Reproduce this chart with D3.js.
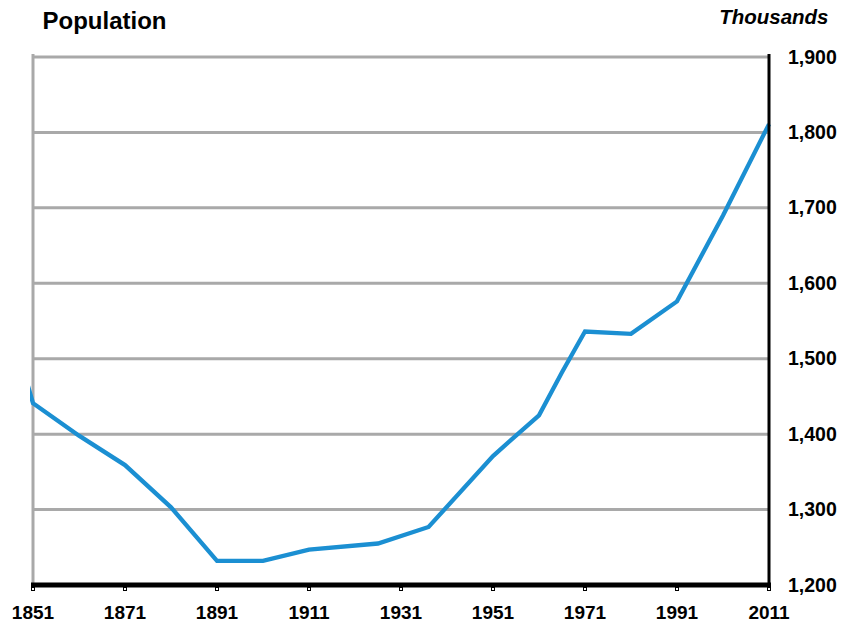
<!DOCTYPE html>
<html>
<head>
<meta charset="utf-8">
<script src="https://cdn.jsdelivr.net/npm/d3@7"></script>
<style>
  html, body { margin: 0; padding: 0; background: #fff; }
  svg { display: block; font-family: "Liberation Sans", Arial, Helvetica, sans-serif; }
</style>
</head>
<body>
<svg id="chart" width="842" height="624"></svg>
<script>
// Census years and population (thousands)
const years = [1841, 1851, 1861, 1871, 1881, 1891, 1901, 1911, 1926, 1937, 1951, 1961, 1966, 1971, 1981, 1991, 2001, 2011];
const population = [1649, 1441, 1398, 1359, 1303, 1232, 1232, 1247, 1255, 1277, 1371, 1425, 1482, 1536, 1533, 1576, 1690, 1811];
const xTicks = [1851, 1871, 1891, 1911, 1931, 1951, 1971, 1991, 2011];
const yTicks = [1200, 1300, 1400, 1500, 1600, 1700, 1800, 1900];

const svg = d3.select("#chart");
const plotLeft = 33, plotRight = 769, plotTop = 57, plotBottom = 585;

const x = d3.scaleLinear().domain([1851, 2011]).range([plotLeft, plotRight]);
const y = d3.scaleLinear().domain([1200, 1900]).range([plotBottom, plotTop]);
const fmt = d3.format(",");

// horizontal gridlines
svg.append("g").selectAll("line")
  .data(yTicks.filter(d => d > 1200))
  .join("line")
  .attr("x1", plotLeft).attr("x2", plotRight)
  .attr("y1", d => y(d)).attr("y2", d => y(d))
  .attr("stroke", "#a9a9a9").attr("stroke-width", 3);

// left frame
svg.append("line")
  .attr("x1", plotLeft).attr("x2", plotLeft)
  .attr("y1", plotTop - 3).attr("y2", plotBottom)
  .attr("stroke", "#a9a9a9").attr("stroke-width", 3);

// population line, clipped just outside the left frame
svg.append("clipPath").attr("id", "plot-clip")
  .append("rect").attr("x", plotLeft - 3).attr("y", 0).attr("width", plotRight - plotLeft + 10).attr("height", 624);

const line = d3.line().x((d, i) => x(years[i])).y(d => y(d)).curve(d3.curveLinear);
svg.append("path")
  .attr("clip-path", "url(#plot-clip)")
  .attr("d", line(population))
  .attr("fill", "none")
  .attr("stroke", "#1b8fd2")
  .attr("stroke-width", 4.3)
  .attr("stroke-linejoin", "miter");

// right axis
svg.append("line")
  .attr("x1", plotRight).attr("x2", plotRight)
  .attr("y1", plotTop - 3).attr("y2", plotBottom + 2)
  .attr("stroke", "#000").attr("stroke-width", 3);

// bottom axis
svg.append("line")
  .attr("x1", plotLeft - 2).attr("x2", plotRight + 2)
  .attr("y1", plotBottom).attr("y2", plotBottom)
  .attr("stroke", "#000").attr("stroke-width", 5);

// x tick marks
svg.append("g").selectAll("rect")
  .data(xTicks)
  .join("rect")
  .attr("x", d => x(d) - 1.5).attr("y", plotBottom + 2.5)
  .attr("width", 3).attr("height", 3)
  .attr("fill", "#fff").attr("stroke", "#000").attr("stroke-width", 1);

// x labels
svg.append("g").selectAll("text")
  .data(xTicks)
  .join("text")
  .attr("x", d => x(d)).attr("y", 619)
  .attr("text-anchor", "middle")
  .attr("font-size", 19).attr("font-weight", "bold")
  .text(d => d);

// y labels
svg.append("g").selectAll("text")
  .data(yTicks)
  .join("text")
  .attr("x", 788).attr("y", d => y(d) + 6.5)
  .attr("font-size", 19.5).attr("font-weight", "bold")
  .text(d => fmt(d));

// titles
svg.append("text")
  .attr("x", 42.5).attr("y", 29.3)
  .attr("font-size", 24).attr("font-weight", "bold")
  .text("Population");

svg.append("text")
  .attr("x", 828.5).attr("y", 24)
  .attr("text-anchor", "end")
  .attr("font-size", 20.5).attr("font-weight", "bold").attr("font-style", "italic")
  .text("Thousands");
</script>
</body>
</html>
